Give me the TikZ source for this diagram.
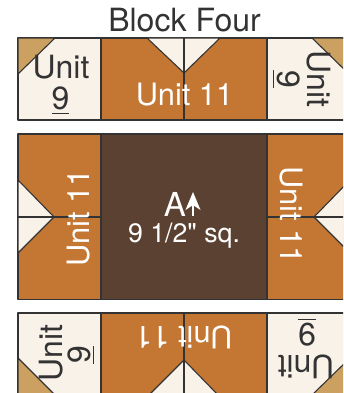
\documentclass[tikz,border=0pt]{standalone}
\usepackage{fontspec}
\setmainfont{TeX Gyre Heros}
\newfontfamily\sizefont{TeX Gyre Heros}
\usetikzlibrary{arrows.meta}
\definecolor{rust}{HTML}{C47633}
\definecolor{walnut}{HTML}{5B4131}
\definecolor{cream}{HTML}{F9F2E9}
\definecolor{tan}{HTML}{CBA060}
\definecolor{seam}{HTML}{333333}
\newcommand{\ninemark}{\rlap{\rule[-4.2pt]{17.8pt}{1.6pt}}9}

\begin{document}
\begin{tikzpicture}[
    x=1pt, y=-1pt,
    patch/.style={draw=seam, line width=1.1pt, line join=round},
    label/.style={inner sep=0, anchor=base, text=seam, font=\fontsize{32}{36}\selectfont},
    whitelabel/.style={label, text=white, font=\fontsize{30.8}{36}\selectfont},
    arr/.style={-{Stealth[length=18pt, width=15pt, inset=5pt]}, white, line width=2pt}
]
\useasboundingbox (0,0) rectangle (343,393);
\clip (0,0) rectangle (343,393);

% Title
\node[label, font=\fontsize{32}{36}\selectfont] (title) at (184.5,31.5) {Block Four};

% Top row
\draw[patch, fill=cream] (18,38) rectangle (101,120);
\draw[patch, fill=tan] (18,38) -- (55,38) -- (18,74) -- cycle;
\draw[patch, fill=rust] (101,38) rectangle (267,120);
\draw[patch, fill=cream] (147,38) -- (184,73) -- (220,38) -- cycle;
\draw[patch] (184,38) -- (184,120);
\draw[patch, fill=cream] (267,38) rectangle (350,120);
\draw[patch, fill=tan] (350,38) -- (312,38) -- (350,75) -- cycle;

% Middle row
\draw[patch, fill=rust] (18,134) rectangle (101,299.5);
\draw[patch, fill=cream] (18,180) -- (54,217) -- (18,253) -- cycle;
\draw[patch] (18,217) -- (101,217);
\draw[patch, fill=walnut] (101,134) rectangle (267,299.5);
\draw[patch, fill=rust] (267,134) rectangle (350,299.5);
\draw[patch, fill=cream] (350,180) -- (314,217) -- (350,253) -- cycle;
\draw[patch] (267,217) -- (350,217);

% Bottom row
\draw[patch, fill=cream] (18,313) rectangle (101,400);
\draw[patch, fill=tan] (18,358) -- (55,395) -- (18,395) -- cycle;
\draw[patch, fill=rust] (101,313) rectangle (267,400);
\draw[patch, fill=cream] (147,397) -- (184,360) -- (220,397) -- cycle;
\draw[patch] (184,313) -- (184,400);
\draw[patch, fill=cream] (267,313) rectangle (350,400);
\draw[patch, fill=tan] (350,358) -- (312,395) -- (350,395) -- cycle;

% Labels, top row
\node[label] (u9a) at (61,79) {Unit};
\node[label] (n9a) at (60.5,110) {\ninemark};
\node[whitelabel] (u11a) at (184.5,106) {Unit 11};
\node[label, rotate=-90] (u9b) at (307,79) {Unit};
\node[label, rotate=-90] (n9b) at (277,79) {\ninemark};

% Labels, middle row
\node[whitelabel, rotate=90] (u11b) at (89,218) {Unit 11};
\node[whitelabel, rotate=-90] (u11c) at (280,215) {Unit 11};
\node[whitelabel, font=\fontsize{33}{36}\selectfont] (pieceA) at (175,216) {A};
\node[whitelabel, font=\sizefont\fontsize{26.7}{30}\selectfont] (size) at (184,242) {9 1/2" sq.};
\coordinate (grainlow) at (193,216);
\coordinate (grainhigh) at (193,192);
\draw[arr] (grainlow) -- (grainhigh);

% Labels, bottom row
\node[label, rotate=90] (u9c) at (62,353) {Unit};
\node[label, rotate=90] (n9c) at (90,355) {\ninemark};
\node[whitelabel, rotate=180] (u11d) at (184,326) {Unit 11};
\node[label, rotate=180] (n9d) at (307,323) {\ninemark};
\node[label, rotate=180] (u9d) at (306,355) {Unit};

\end{tikzpicture}
\end{document}
